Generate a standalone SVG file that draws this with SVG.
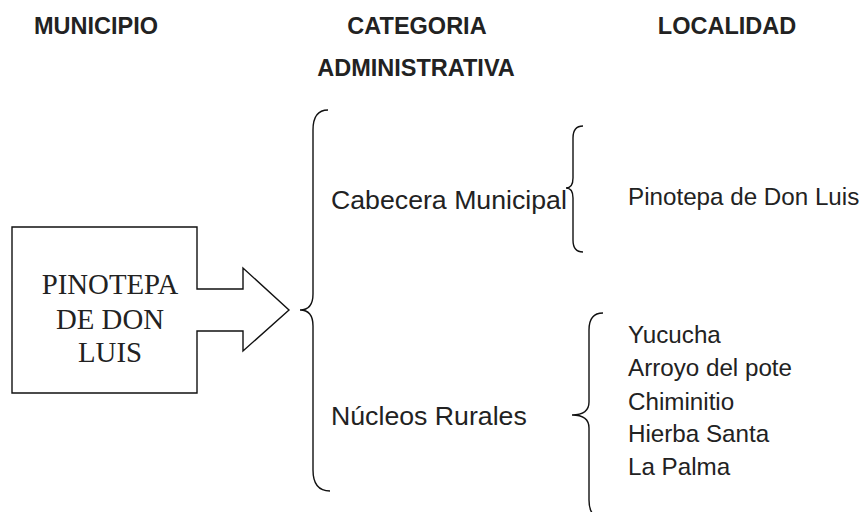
<svg xmlns="http://www.w3.org/2000/svg" width="864" height="512" viewBox="0 0 864 512">
<style>
.hdr{font-family:"Liberation Sans",Arial,sans-serif;font-weight:bold;font-size:23.5px;fill:#222;text-anchor:middle}
.lbl{font-family:"Liberation Sans",Arial,sans-serif;font-size:26.7px;fill:#222}
.loc{font-family:"Liberation Sans",Arial,sans-serif;font-size:24.2px;fill:#222}
.serif{font-family:"Liberation Serif","Times New Roman",serif;font-size:28.8px;fill:#222;text-anchor:middle}
.brace{fill:none;stroke:#111;stroke-width:1.4}
</style>
<rect width="864" height="512" fill="#fff"/>
<g id="headers">
<text class="hdr" x="96" y="34">MUNICIPIO</text>
<text class="hdr" x="417" y="34">CATEGORIA</text>
<text class="hdr" x="416" y="76">ADMINISTRATIVA</text>
<text class="hdr" x="727" y="34">LOCALIDAD</text>
</g>
<g id="municipio">
<polygon points="12,227 197,227 197,289 243,289 243,268 289,310 243,351 243,331 197,331 197,393 12,393" fill="#fff" stroke="#111" stroke-width="1.4"/>
<text class="serif" x="110" y="294">PINOTEPA</text>
<text class="serif" x="110" y="329">DE DON</text>
<text class="serif" x="110" y="362">LUIS</text>
</g>
<g id="connectors">
<path class="brace" d="M328,110 Q313,110 313,130 L313,294 Q313,310 300,310 Q313,310 313,326 L313,470 Q313,491 330,491"/>
<path class="brace" d="M583,126 Q573,126 573,138 L573,178 Q573,188 566,188 Q573,188 573,198 L573,240 Q573,252 583,252"/>
<path class="brace" d="M603,313 Q589,313 589,330 L589,402 Q589,415 572,415 Q589,415 589,428 L589,500 Q589,518 603,518"/>
</g>
<g id="cabecera">
<text class="lbl" x="331" y="209">Cabecera Municipal</text>
</g>
<g id="nucleos">
<text class="lbl" x="331" y="425">Núcleos Rurales</text>
</g>
<g id="localidades">
<text class="loc" x="628" y="205">Pinotepa de Don Luis</text>
<text class="loc" x="628" y="343">Yucucha</text>
<text class="loc" x="628" y="376">Arroyo del pote</text>
<text class="loc" x="628" y="410">Chiminitio</text>
<text class="loc" x="628" y="442">Hierba Santa</text>
<text class="loc" x="628" y="475">La Palma</text>
</g>
</svg>
